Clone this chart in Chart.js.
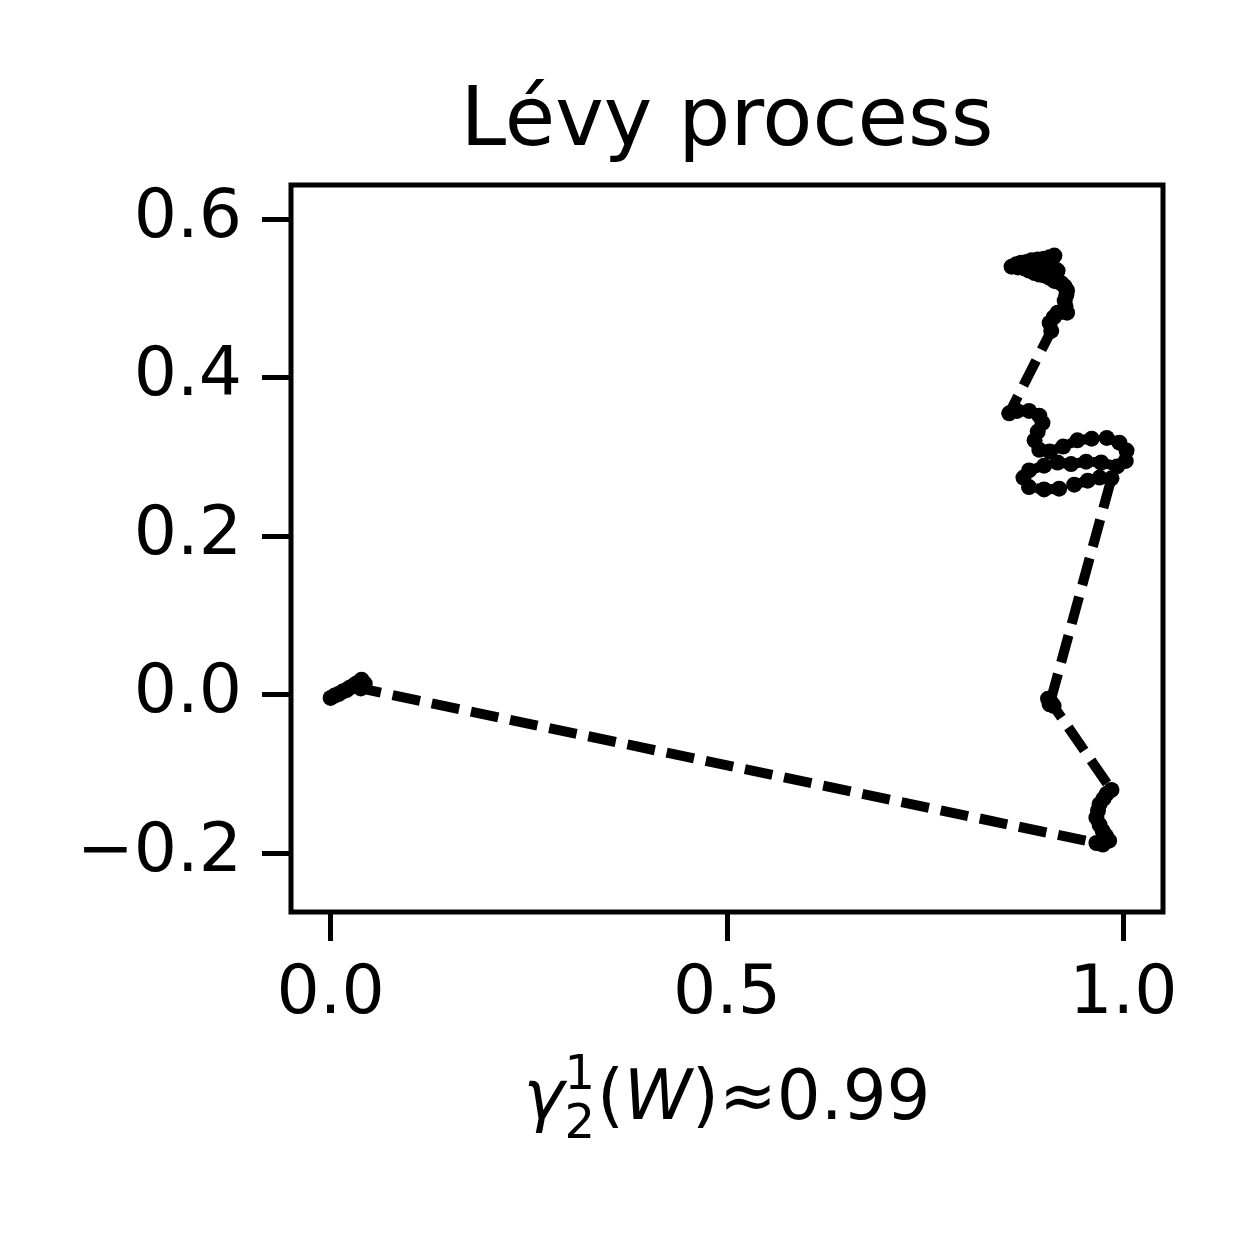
<!DOCTYPE html>
<html>
<head>
<meta charset="utf-8">
<script src="https://cdn.jsdelivr.net/npm/chart.js@4.4.0/dist/chart.umd.min.js"></script>
<style>
  body { margin: 0; background: #fff; }
</style>
</head>
<body>
<canvas id="chart" width="1250" height="1250"></canvas>
<script>
// Path of the process
const xs = [
  0.000, 0.005, 0.010, 0.015, 0.020, 0.024, 0.028, 0.032, 0.036, 0.039, 0.043, 0.041, 0.038,
  0.966, 0.974, 0.982, 0.978, 0.974, 0.970, 0.966, 0.968, 0.970, 0.975, 0.979, 0.985,
  0.909, 0.905, 0.912, 0.907,
  0.985, 0.970, 0.955, 0.938, 0.919, 0.900, 0.881, 0.874, 0.881, 0.900, 0.917, 0.934,
  0.953, 0.972, 0.992, 1.003, 1.004, 0.995, 0.979, 0.960, 0.942, 0.924, 0.907, 0.894,
  0.888, 0.892, 0.898, 0.894, 0.881, 0.866, 0.856,
  0.909, 0.907, 0.912, 0.917, 0.923, 0.929, 0.927, 0.926, 0.928, 0.929, 0.926, 0.922,
  0.918, 0.913, 0.907, 0.900, 0.894, 0.888, 0.881, 0.875, 0.867, 0.859, 0.865, 0.871,
  0.878, 0.884, 0.892, 0.900, 0.907, 0.913, 0.910, 0.907, 0.902, 0.897, 0.902, 0.907,
  0.912, 0.917
];
const ys = [
  -0.004, -0.001, 0.001, 0.004, 0.006, 0.009, 0.011, 0.014, 0.016, 0.019, 0.014, 0.011, 0.008,
  -0.187, -0.189, -0.184, -0.178, -0.172, -0.164, -0.155, -0.146, -0.138, -0.131, -0.125, -0.120,
  -0.010, -0.005, -0.014, -0.012,
  0.273, 0.274, 0.270, 0.265, 0.260, 0.259, 0.262, 0.274, 0.283, 0.289, 0.293, 0.291,
  0.294, 0.293, 0.288, 0.295, 0.308, 0.318, 0.324, 0.323, 0.321, 0.313, 0.307, 0.309,
  0.321, 0.332, 0.343, 0.352, 0.358, 0.358, 0.355,
  0.459, 0.469, 0.476, 0.482, 0.483, 0.482, 0.490, 0.497, 0.504, 0.510, 0.515, 0.519,
  0.521, 0.522, 0.526, 0.529, 0.530, 0.532, 0.535, 0.538, 0.539, 0.540, 0.543, 0.545,
  0.546, 0.548, 0.549, 0.550, 0.552, 0.554, 0.549, 0.545, 0.541, 0.538, 0.535, 0.532,
  0.533, 0.535
];
const xTicks = [0, 0.5, 1.0];
const yTicks = [-0.2, 0, 0.2, 0.4, 0.6];
const xRange = [-0.05, 1.05];
const yRange = [-0.274, 0.643];
const titleText = "L\u00e9vy process";

const fontFamily = "'DejaVu Sans', sans-serif";

function fmt(v) {
  return (v < 0 ? "\u2212" : "") + Math.abs(v).toFixed(1);
}

// box around the plot area + title centred over it
const frame = {
  id: "frame",
  afterDraw(chart) {
    const { ctx, chartArea: a } = chart;
    ctx.save();
    ctx.strokeStyle = "#000";
    ctx.lineWidth = 5;
    ctx.strokeRect(a.left, a.top, a.right - a.left, a.bottom - a.top);
    ctx.fillStyle = "#000";
    ctx.font = "82px " + fontFamily;
    ctx.textAlign = "center";
    ctx.textBaseline = "alphabetic";
    ctx.fillText(titleText, (a.left + a.right) / 2, 145);
    ctx.restore();
  },
};

// x label with stacked super/subscript: gamma^1_2(W)≈0.99
const xLabel = {
  id: "xLabel",
  afterDraw(chart) {
    const { ctx, chartArea: a } = chart;
    const size = 69;
    const small = 48;
    const base = 1119;
    const norm = size + "px " + fontFamily;
    const ital = "italic " + size + "px " + fontFamily;
    const scr = small + "px " + fontFamily;
    const parts = [
      { t: "\u03b3", f: ital },
      { script: true },
      { t: "(", f: norm },
      { t: "W", f: ital },
      { t: ")", f: norm },
      { t: "\u22480.99", f: norm },
    ];
    ctx.save();
    ctx.fillStyle = "#000";
    ctx.textBaseline = "alphabetic";
    let total = 0;
    parts.forEach((p) => {
      if (p.script) {
        ctx.font = scr;
        p.w = ctx.measureText("1").width + 2;
      } else {
        ctx.font = p.f;
        p.w = ctx.measureText(p.t).width;
      }
      total += p.w;
    });
    let x = (a.left + a.right) / 2 - total / 2;
    ctx.textAlign = "left";
    parts.forEach((p) => {
      if (p.script) {
        ctx.font = scr;
        ctx.fillText("1", x, base - 30);
        ctx.fillText("2", x, base + 19);
      } else {
        ctx.font = p.f;
        ctx.fillText(p.t, x, base);
      }
      x += p.w;
    });
    ctx.restore();
  },
};

const ctx = document.getElementById("chart").getContext("2d");

new Chart(ctx, {
  type: "scatter",
  data: {
    datasets: [
      {
        data: xs.map((x, i) => ({ x: x, y: ys[i] })),
        showLine: true,
        borderColor: "#000",
        borderWidth: 10,
        borderDash: [28, 12],
        borderJoinStyle: "round",
        backgroundColor: "#000",
        pointRadius: 8,
        pointBorderWidth: 0,
        pointBackgroundColor: "#000",
        tension: 0,
      },
    ],
  },
  options: {
    responsive: false,
    animation: false,
    layout: { padding: { left: 0, right: 87, top: 185, bottom: 0 } },
    plugins: {
      legend: { display: false },
      tooltip: { enabled: false },
      title: { display: false },
    },
    scales: {
      x: {
        type: "linear",
        min: xRange[0],
        max: xRange[1],
        afterBuildTicks: (s) => { s.ticks = xTicks.map((v) => ({ value: v })); },
        afterFit: (s) => { s.height = 338; },
        grid: { drawOnChartArea: false, drawTicks: true, tickLength: 29, tickWidth: 5, tickColor: "#000" },
        border: { display: false },
        ticks: {
          color: "#000",
          padding: 14,
          maxRotation: 0,
          font: { family: fontFamily, size: 68 },
          callback: (v) => fmt(v),
        },
      },
      y: {
        type: "linear",
        min: yRange[0],
        max: yRange[1],
        afterBuildTicks: (s) => { s.ticks = yTicks.map((v) => ({ value: v })); },
        afterFit: (s) => { s.width = 291; },
        grid: { drawOnChartArea: false, drawTicks: true, tickLength: 29, tickWidth: 5, tickColor: "#000" },
        border: { display: false },
        ticks: {
          color: "#000",
          padding: 20,
          font: { family: fontFamily, size: 68 },
          callback: (v) => fmt(v),
        },
      },
    },
  },
  plugins: [frame, xLabel],
});
</script>
</body>
</html>
